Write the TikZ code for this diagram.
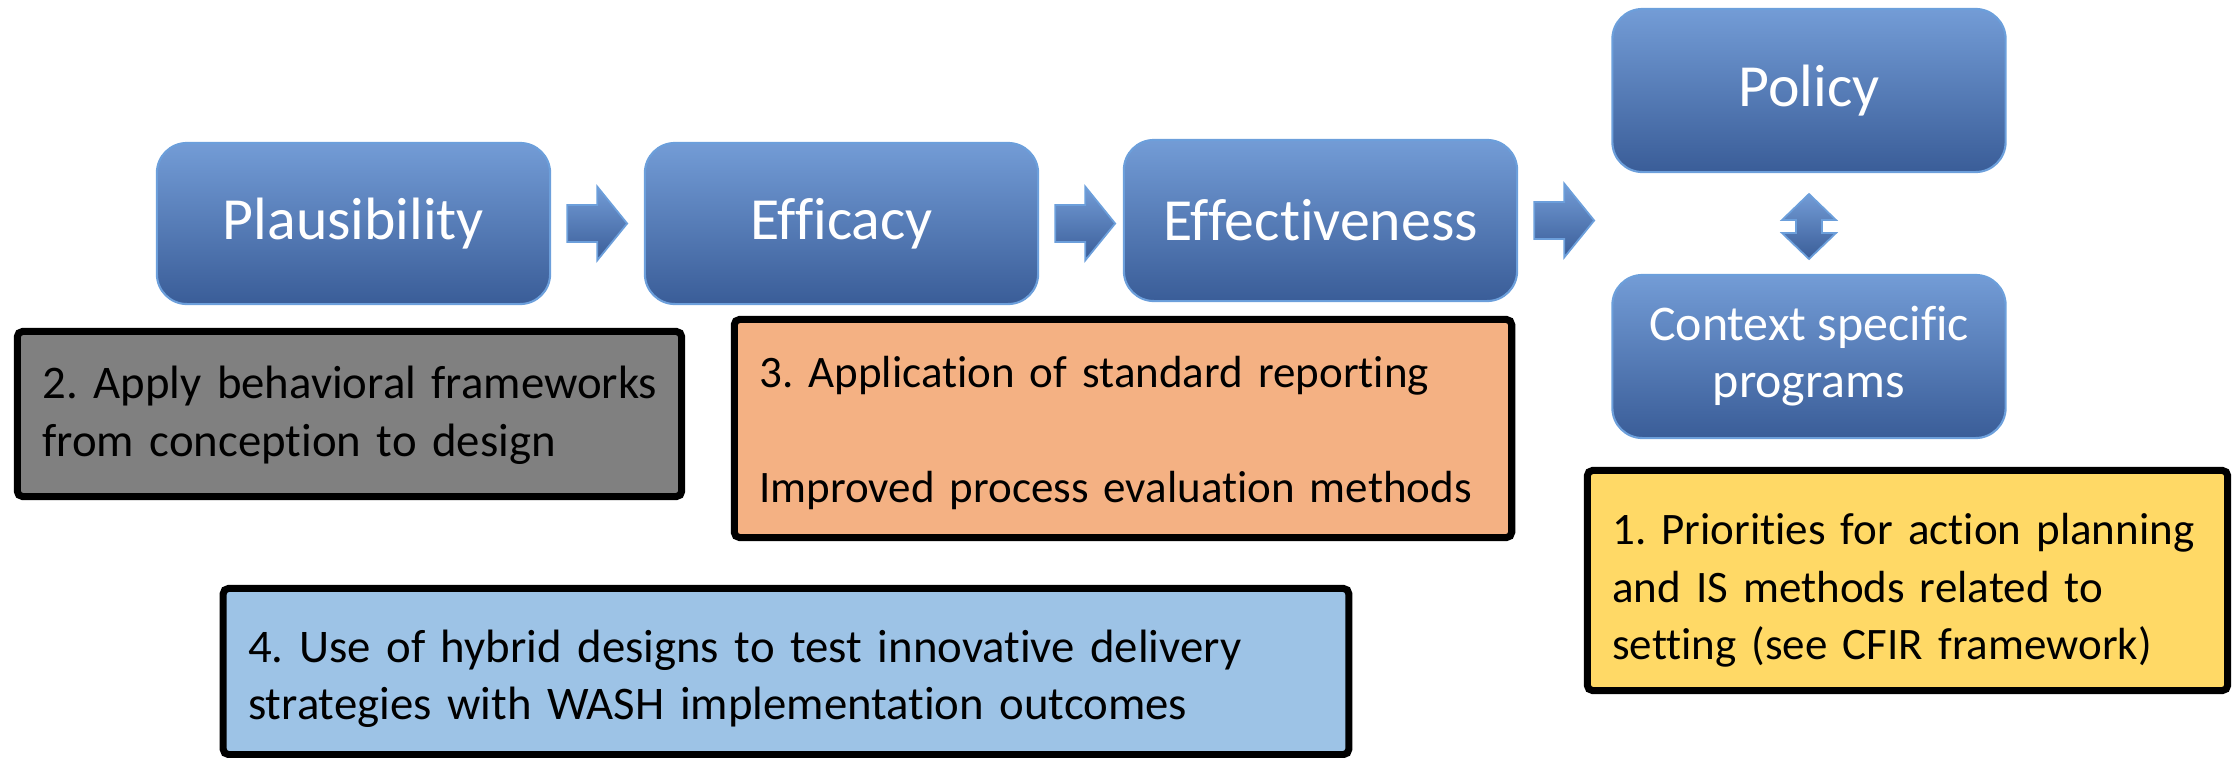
\documentclass[tikz,border=0pt]{standalone}
\usepackage{fontspec}
\setmainfont{Carlito}[Ligatures=NoCommon]
\usetikzlibrary{calc}
\frenchspacing
\definecolor{stagetop}{HTML}{739CD6}
\definecolor{stagebot}{HTML}{3A5D98}
\definecolor{stageline}{HTML}{6C9FDB}
\definecolor{notegray}{HTML}{808080}
\definecolor{noteorange}{HTML}{F4B183}
\definecolor{noteyellow}{HTML}{FFD966}
\definecolor{noteblue}{HTML}{9DC3E6}
\newcommand{\notelines}[2][0pt]{\raisebox{-#1}[\height][\depth]{\begin{tabular}{@{}l@{}}#2\end{tabular}}}
\tikzset{
  bigtxt/.style={font=\fontsize{17}{20}\selectfont},
  ctxtxt/.style={font=\fontsize{14.2}{16.2}\selectfont},
  smtxt/.style={font=\fontsize{13.3}{16.4}\selectfont},
  fittxt/.style={font=\fontsize{12.8}{16.4}\selectfont},
  stage/.style={rounded corners=0.3cm, draw=stageline, line width=0.6pt, top color=stagetop, bottom color=stagebot,
    text=white, align=center, minimum width=3.93cm, minimum height=1.61cm, inner sep=0pt},
  note/.style={draw=black, line width=2pt, rounded corners=1.5pt, smtxt, inner xsep=0.25cm, inner ysep=0pt},
  blkarr/.style={draw=stageline, line width=0.5pt, top color=stagetop, bottom color=stagebot},
}
\begin{document}
\begin{tikzpicture}[x=0.01cm, y=-0.01cm]
  \useasboundingbox (0,0) rectangle (2238,757);
  % stages of the pathway
  \node[stage, bigtxt] (plaus) at (353.5,223.5) {Plausibility};
  \node[stage, bigtxt] (effic) at (841.5,223.5) {Efficacy};
  \node[stage, bigtxt] (effect) at (1320.5,220.5) {Effectiveness};
  \node[stage, bigtxt, minimum height=1.63cm] (policy) at (1809,90.5) {Policy};
  \node[stage, ctxtxt, minimum height=1.63cm] (context) at (1809,356.5) {Context specific\\programs};
  % block arrows
  \foreach \src in {plaus,effic,effect}
    \path[blkarr] ($(\src.east)+(16,-18.5)$) -- ++(30,0) -- ++(0,-18.5) -- ++(30,37) -- ++(-30,37)
      -- ++(0,-18.5) -- ++(-30,0) -- cycle;
  \coordinate (swap) at ($(policy.south)!0.5!(context.north)+(0,3)$);
  \path[blkarr] ($(swap)+(0,-32.5)$) -- ++(27,26) -- ++(-14,0) -- ++(0,13) -- ++(14,0) -- ++(-27,26)
    -- ++(-27,-26) -- ++(14,0) -- ++(0,-13) -- ++(-14,0) -- cycle;
  % numbered notes
  \node[note, fill=notegray, text width=6.14cm, minimum height=1.65cm] (note2) at (349.5,414)
    {\notelines[0.02cm]{2. Apply behavioral frameworks\\from conception to design}};
  \node[note, fittxt, fill=noteorange, text width=7.27cm, minimum height=2.18cm] (note3) at (1123,428.5)
    {\notelines[0.05cm]{3. Application of standard reporting\\ \\Improved process evaluation methods}};
  \node[note, fittxt, fill=noteyellow, text width=5.90cm, minimum height=2.20cm] (note1) at (1907.5,580.5)
    {\notelines[0.1cm]{1. Priorities for action planning\\and IS methods related to\\setting (see CFIR framework)}};
  \node[note, fill=noteblue, text width=10.75cm, minimum height=1.66cm] (note4) at (786,671.5)
    {\notelines[0.08cm]{4. Use of hybrid designs to test innovative delivery\\strategies with WASH implementation outcomes}};
\end{tikzpicture}
\end{document}
